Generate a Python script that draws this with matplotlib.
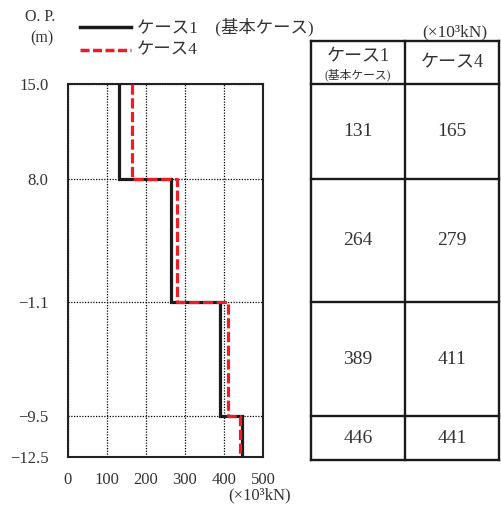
import numpy as np
import matplotlib
matplotlib.use("Agg")
import matplotlib.pyplot as plt
from matplotlib.lines import Line2D

plt.rcParams['font.family'] = ['Liberation Serif', 'Noto Sans CJK JP']

# ---- data ----
levels = [15.0, 8.0, -1.1, -9.5, -12.5]          # O.P. (m), section boundaries
level_labels = ["15.0", "8.0", "−1.1", "−9.5", "−12.5"]
case1 = [131, 264, 389, 446]                      # ケース1 (基本ケース)
case4 = [165, 279, 411, 441]                      # ケース4
xticks = [0, 100, 200, 300, 400, 500]
series_names = ["ケース1　(基本ケース)", "ケース4"]

W, H = 501, 508
fig = plt.figure(figsize=(W / 100, H / 100), dpi=100)

def fx(px):
    return px / W

def fy(py):
    return 1 - py / H

TXT = '#333333'

# ---- profile axes ----
ax = fig.add_axes([fx(68), fy(457), fx(263) - fx(68), fy(84) - fy(457)])
ax.set_xlim(0, 500)
ax.set_ylim(levels[-1], levels[0])


def step_xy(vals):
    xs, ys = [], []
    for i, v in enumerate(vals):
        xs += [v, v]
        ys += [levels[i], levels[i + 1]]
    return xs, ys

x1, y1 = step_xy(case1)
x4, y4 = step_xy(case4)
ax.plot(x1, y1, color='#1a1a1a', lw=2.3, solid_joinstyle='miter', zorder=3)
ax.plot(x4, y4, color='#ee1c25', lw=2.3, linestyle=(0, (3.2, 1.1)), zorder=4)

ax.set_xticks(xticks)
ax.set_yticks(levels)
ax.set_yticklabels(level_labels)
ax.tick_params(length=0, labelsize=12, pad=14, labelcolor=TXT)
ax.tick_params(axis='x', pad=11)
ax.grid(True, color='black', linestyle=(0, (1, 1.2)), lw=0.9)
for s in ax.spines.values():
    s.set_linewidth(1.5)
    s.set_color('#222222')

fig.text(fx(260), fy(495), "(×10³kN)", ha='center', va='center', fontsize=12, color=TXT)
fig.text(fx(40), fy(17), "O. P.", ha='center', va='center', fontsize=11.5, color=TXT)
fig.text(fx(42), fy(38), "(m)", ha='center', va='center', fontsize=11.5, color=TXT)

# legend (manual)
fig.add_artist(Line2D([fx(80), fx(131)], [fy(27), fy(27)], color='#1a1a1a', lw=2.5))
fig.add_artist(Line2D([fx(80), fx(131)], [fy(50), fy(50)], color='#ee1c25', lw=2.5,
                      linestyle=(0, (2.6, 1.0))))
fig.text(fx(137), fy(27), series_names[0], ha='left', va='center', fontsize=12.5, color=TXT)
fig.text(fx(137), fy(50), series_names[1], ha='left', va='center', fontsize=12.5, color=TXT)

# ---- table axes (elevation-aligned) ----
top_y = 18.17
bot_y = -12.72
tax = fig.add_axes([fx(311), fy(460), fx(499) - fx(311), fy(41) - fy(460)])
tax.set_xlim(0, 2)
tax.set_ylim(bot_y, top_y)
tax.axis('off')
bounds = [top_y] + levels[:-1] + [bot_y]
for b in bounds:
    tax.plot([0, 2], [b, b], color='#1a1a1a', lw=1.7, solid_capstyle='projecting', clip_on=False)
for xv in [0, 1, 2]:
    tax.plot([xv, xv], [bot_y, top_y], color='#1a1a1a', lw=1.7, solid_capstyle='projecting', clip_on=False)

tax.text(0.5, 17.0, "ケース1", ha='center', va='center', fontsize=13, color=TXT)
tax.text(0.5, 15.65, "(基本ケース)", ha='center', va='center', fontsize=8.5, color=TXT)
tax.text(1.5, (top_y + levels[0]) / 2, "ケース4", ha='center', va='center', fontsize=13, color=TXT)
for i in range(len(case1)):
    yc = (bounds[i + 1] + bounds[i + 2]) / 2
    tax.text(0.5, yc, str(case1[i]), ha='center', va='center', fontsize=14, color=TXT)
    tax.text(1.5, yc, str(case4[i]), ha='center', va='center', fontsize=14, color=TXT)

fig.text(fx(455), fy(32), "(×10³kN)", ha='center', va='center', fontsize=12.5, color=TXT)

fig.savefig("out.png", dpi=100)
